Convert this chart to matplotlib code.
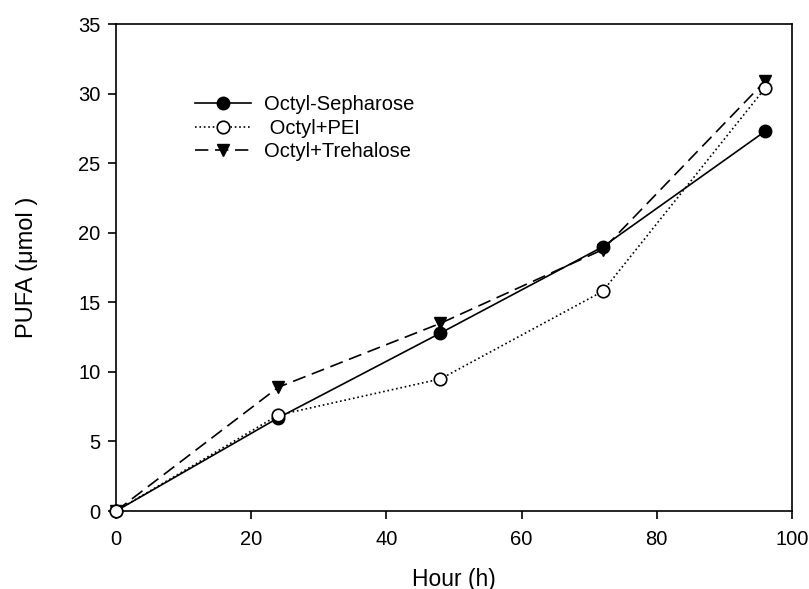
import matplotlib
matplotlib.use("Agg")
import matplotlib.pyplot as plt
from matplotlib import font_manager

hours = [0, 24, 48, 72, 96]
sepharose = [0, 6.7, 12.8, 19.0, 27.3]
pei = [0, 6.9, 9.5, 15.8, 30.4]
trehalose = [0, 8.9, 13.5, 18.8, 30.9]
labels = ["Octyl-Sepharose", " Octyl+PEI", "Octyl+Trehalose"]

names = {f.name for f in font_manager.fontManager.ttflist}
base = "Liberation Sans" if "Liberation Sans" in names else "DejaVu Sans"
plt.rcParams['font.family'] = [base, 'DejaVu Sans']

fig = plt.figure(figsize=(8.09, 5.89), dpi=100)
ax = fig.add_axes([0.1434, 0.1324, 0.8356, 0.8263])

ax.plot(hours, sepharose, '-', color='black', lw=1.2, marker='o', ms=9,
        mfc='black', mec='black', label=labels[0], zorder=3, clip_on=False)
ax.plot(hours, pei, ':', color='black', lw=1.2, marker='o', ms=9,
        mfc='white', mec='black', mew=1.2, label=labels[1], zorder=4, clip_on=False)
ax.plot(hours, trehalose, '--', color='black', lw=1.2, dashes=(8, 4), marker='v', ms=9,
        mfc='black', mec='black', label=labels[2], zorder=2, clip_on=False)

ax.set_xlim(0, 100)
ax.set_ylim(0, 35)
ax.set_xticks(range(0, 101, 20))
ax.set_yticks(range(0, 36, 5))
ax.tick_params(direction='out', length=6, width=1.2, top=False, right=False,
               labelsize=14.5)
ax.tick_params(axis='x', pad=8)
ax.tick_params(axis='y', pad=5)
for s in ax.spines.values():
    s.set_linewidth(1.2)

ax.set_xlabel("Hour (h)", fontsize=16.5, labelpad=13)
ax.set_ylabel("PUFA (μmol )", fontsize=17, labelpad=29)

leg = ax.legend(loc='upper left', bbox_to_anchor=(0.102, 0.875), frameon=False,
                fontsize=14.5, handlelength=2.8, labelspacing=0.22, handletextpad=0.6,
                borderpad=0)

fig.savefig("out.png", dpi=100)
